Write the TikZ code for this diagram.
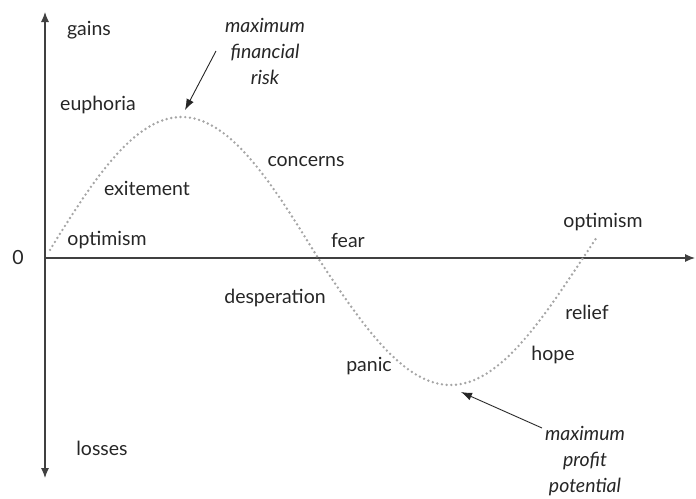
\documentclass[tikz,border=0pt]{standalone}
\usepackage{fontspec}
\setmainfont{Lato}
\usetikzlibrary{arrows.meta}
\begin{document}
\begin{tikzpicture}[x=1pt,y=-1pt,
  lbl/.style={inner sep=0pt, font=\fontsize{19.5}{23}\selectfont, text=black!85},
  ital/.style={lbl, font=\fontsize{19.5}{26}\selectfont\itshape, align=center},
  axis/.style={line width=1.1pt, black!75, -{Latex[length=10pt,width=8pt]}},
  pointer/.style={line width=0.9pt, black!85, -{Latex[length=11pt,width=8pt]}},
  curve/.style={draw=black!35, line width=2.7pt, line cap=round, dash pattern=on 0pt off 4.7pt}]
\useasboundingbox (0,0) rectangle (696,498);
% axes
\coordinate (O) at (45,258);
\coordinate (top) at (45,12);
\coordinate (bot) at (45,478);
\coordinate (right) at (695,258);
\draw[axis] (O) -- (top);
\draw[axis] (O) -- (bot);
\draw[axis] (O) -- (right);
% curve
\draw[curve] plot[domain=50:318, samples=90] (\x, {258-141*sin((\x-45)/273*180)})
  -- plot[domain=318:597, samples=90] (\x, {258+127*sin((\x-318)/265*180)});
% labels
\node[lbl] (zero) at (18,258) {0};
\node[lbl] (gains) at (89,30) {gains};
\node[lbl] (euphoria) at (98,105) {euphoria};
\node[lbl] (exit) at (147,188) {exitement};
\node[lbl] (opt1) at (107,240) {optimism};
\node[lbl] (concerns) at (306,162) {concerns};
\node[lbl] (fear) at (348,240) {fear};
\node[lbl] (desp) at (275,298) {desperation};
\node[lbl] (panic) at (369,366) {panic};
\node[lbl] (hope) at (553,355) {hope};
\node[lbl] (relief) at (587,312) {relief};
\node[lbl] (opt2) at (603,222) {optimism};
\node[lbl] (losses) at (102,448) {losses};
\node[ital] (risk) at (265,51) {maximum\\financial\\risk};
\node[ital] (profit) at (585,461) {maximum\\profit\\potential};
% pointers
\coordinate (riskfrom) at (216,51);
\coordinate (riskto) at (185,110);
\coordinate (profitfrom) at (542,428);
\coordinate (profitto) at (461,392);
\draw[pointer] (riskfrom) -- (riskto);
\draw[pointer] (profitfrom) -- (profitto);
\end{tikzpicture}
\end{document}
